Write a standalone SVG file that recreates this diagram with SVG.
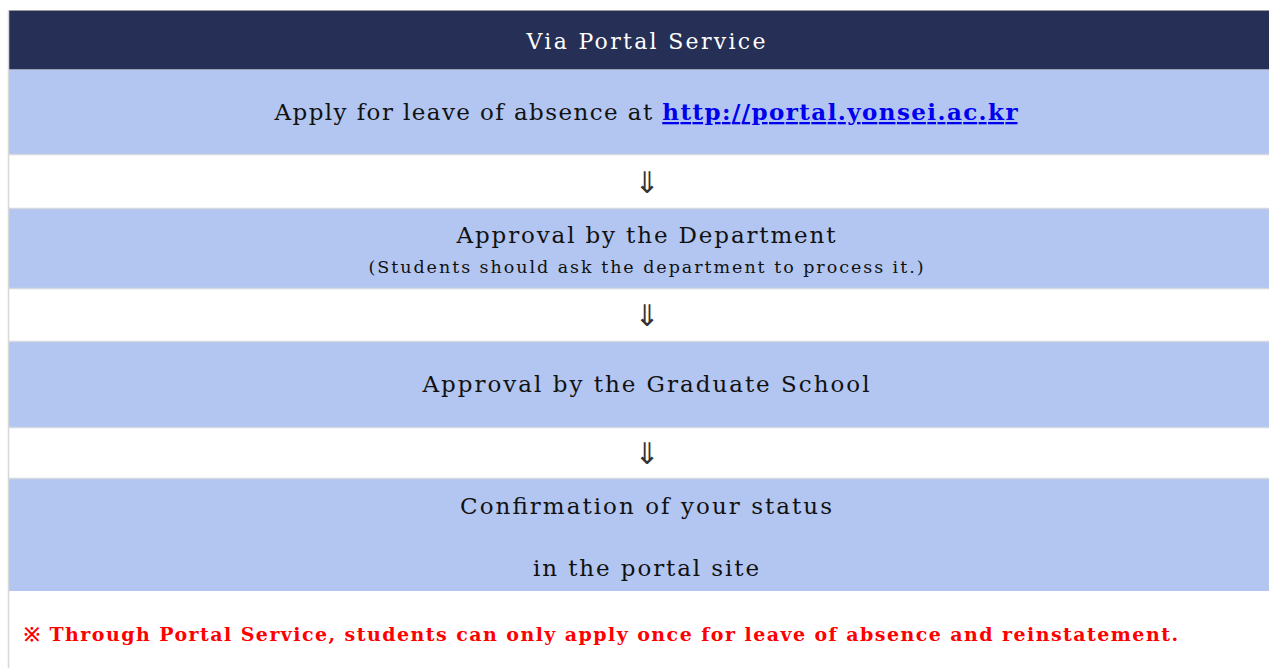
<svg xmlns="http://www.w3.org/2000/svg" width="1269" height="668" viewBox="0 0 1269 668">
<style>
.row{fill:#b3c6f1}
.sep{stroke:#d4d8e0;stroke-width:1.5}
.t{font-family:"DejaVu Serif","Liberation Serif",serif;fill:#111;text-anchor:middle;font-size:23px}
.s{font-size:17.5px}
.arr{font-family:"DejaVu Sans",sans-serif;font-size:30px;fill:#333;text-anchor:middle}
</style>
<rect width="1269" height="668" fill="#fff"/>
<g id="header">
<rect x="9" y="10" width="1260" height="59" fill="#262f55"/>
<line x1="9" y1="10.5" x2="1269" y2="10.5" stroke="#999" stroke-width="1"/>
<line x1="9" y1="69.5" x2="1269" y2="69.5" stroke="#9aa0b0" stroke-width="1"/>
<text class="t" x="646" y="49" style="fill:#fff;font-size:22px" textLength="239" lengthAdjust="spacing">Via Portal Service</text>
</g>
<g id="step1">
<rect class="row" x="9" y="70" width="1260" height="84"/>
<line class="sep" x1="9" y1="154.5" x2="1269" y2="154.5"/>
<text class="t" x="646" y="120" textLength="743" lengthAdjust="spacing">Apply for leave of absence at <tspan fill="#0000ee" font-weight="bold" text-decoration="underline">http://portal.yonsei.ac.kr</tspan></text>
</g>
<g id="step2">
<rect class="row" x="9" y="209" width="1260" height="79"/>
<line class="sep" x1="9" y1="208.5" x2="1269" y2="208.5"/>
<line class="sep" x1="9" y1="288.5" x2="1269" y2="288.5"/>
<text class="t" x="646" y="243" textLength="379" lengthAdjust="spacing">Approval by the Department</text>
<text class="t s" x="646" y="273" textLength="555" lengthAdjust="spacing">(Students should ask the department to process it.)</text>
</g>
<g id="step3">
<rect class="row" x="9" y="342" width="1260" height="85"/>
<line class="sep" x1="9" y1="341.5" x2="1269" y2="341.5"/>
<line class="sep" x1="9" y1="427.5" x2="1269" y2="427.5"/>
<text class="t" x="646" y="392" textLength="447" lengthAdjust="spacing">Approval by the Graduate School</text>
</g>
<g id="step4">
<rect class="row" x="9" y="479" width="1260" height="112"/>
<line class="sep" x1="9" y1="478.5" x2="1269" y2="478.5"/>
<text class="t" x="646" y="514" textLength="372" lengthAdjust="spacing">Confirmation of your status</text>
<text class="t" x="646" y="576" textLength="226" lengthAdjust="spacing">in the portal site</text>
</g>
<g id="connectors">
<text class="arr" x="647" y="193">⇓</text>
<text class="arr" x="647" y="326">⇓</text>
<text class="arr" x="647" y="464">⇓</text>
</g>
<g id="note">
<text x="24" y="641" font-family="'DejaVu Serif','Liberation Serif',serif" font-size="19" font-weight="bold" fill="#ff0000" textLength="1154" lengthAdjust="spacing">※ Through Portal Service, students can only apply once for leave of absence and reinstatement.</text>
</g>
<line x1="8.5" y1="10" x2="8.5" y2="668" stroke="#d8d8d8" stroke-width="1.5"/>
</svg>
